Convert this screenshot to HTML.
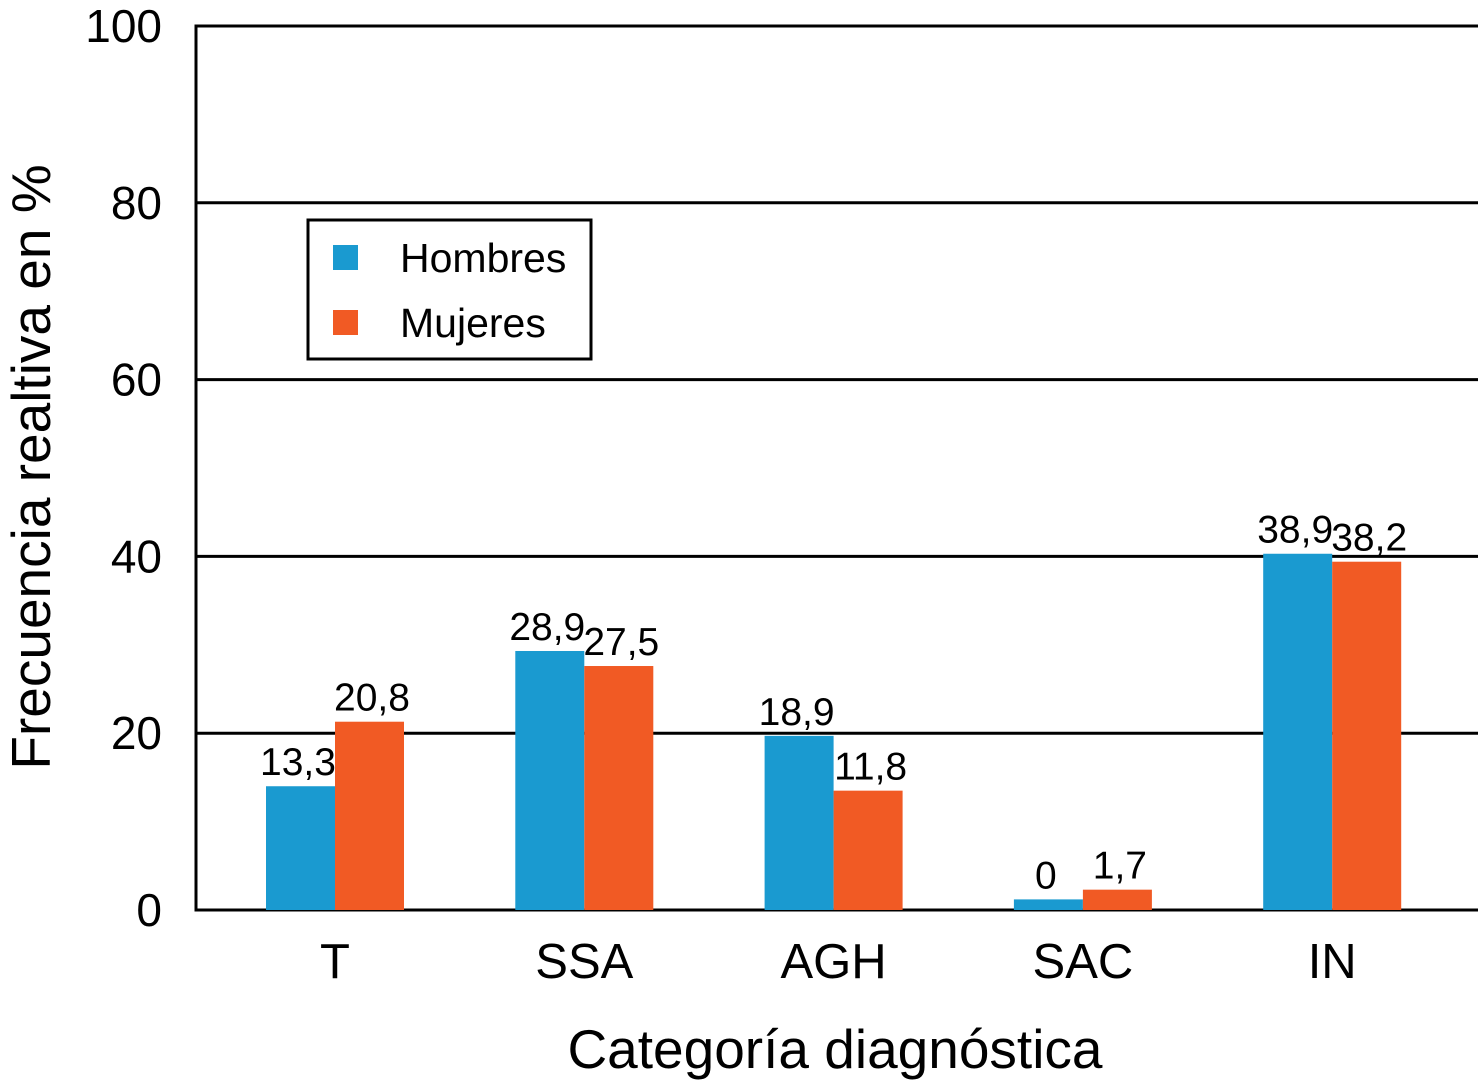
<!DOCTYPE html>
<html><head><meta charset="utf-8"><style>
html,body{margin:0;padding:0;background:#fff;}
svg{display:block;font-family:"Liberation Sans",Arial,sans-serif;}
</style></head><body>
<svg id="chart" width="1478" height="1080" viewBox="0 0 1478 1080">
<g id="grid"></g>
<g id="bars"></g>
<g id="labels"></g>
<g id="yticks"></g>
<g id="xticks"></g>
<text x="835" y="1068" font-size="55" text-anchor="middle">Categoría diagnóstica</text>
<text transform="translate(50,467) rotate(-90)" font-size="55" text-anchor="middle">Frecuencia realtiva en %</text>
<g>
<rect x="308" y="220" width="283" height="139" fill="#fff" stroke="#000" stroke-width="3"/>
<rect x="333" y="245" width="25" height="25" fill="#1a9ad0"/>
<text x="400" y="272" font-size="41">Hombres</text>
<rect x="333" y="310" width="25" height="25" fill="#f15a24"/>
<text x="400" y="337" font-size="41">Mujeres</text>
</g>
</svg>
<script>
const categories=["T","SSA","AGH","SAC","IN"];
const hombres=[14.0,29.3,19.7,1.2,40.3];
const mujeres=[21.3,27.6,13.5,2.3,39.4];
const hombresLabels=["13,3","28,9","18,9","0","38,9"];
const mujeresLabels=["20,8","27,5","11,8","1,7","38,2"];
const yTicks=[0,20,40,60,80,100];

const NS="http://www.w3.org/2000/svg";
const y0=910,y100=26,left=196,right=1478;
const yS=v=>y0-(y0-y100)*v/100;
const xC=i=>335+i*249.3;
const bw=69;
function mk(tag,attrs,parent){const e=document.createElementNS(NS,tag);for(const k in attrs)e.setAttribute(k,attrs[k]);document.getElementById(parent).appendChild(e);return e;}
yTicks.forEach(t=>{
  const l=mk("line",{x1:left,x2:right,y1:yS(t),y2:yS(t),stroke:"#000","stroke-width":3},"grid");
  
  
  const tx=mk("text",{x:162,y:yS(t)+16,"font-size":46,"text-anchor":"end"},"yticks");
  tx.textContent=t;
  
  
});
const ax=mk("line",{x1:left,x2:left,y1:y100-1.5,y2:y0+1.5,stroke:"#000","stroke-width":3},"grid");


categories.forEach((c,i)=>{
  const cx=xC(i);
  const b1=mk("rect",{x:cx-bw,y:yS(hombres[i]),width:bw,height:y0-yS(hombres[i]),fill:"#1a9ad0"},"bars");
  
  
  const b2=mk("rect",{x:cx,y:yS(mujeres[i]),width:bw,height:y0-yS(mujeres[i]),fill:"#f15a24"},"bars");
  
  
  const l1=mk("text",{x:cx-37,y:yS(hombres[i])-11,"font-size":39,"text-anchor":"middle"},"labels");
  l1.textContent=hombresLabels[i];
  
  
  const l2=mk("text",{x:cx+37,y:yS(mujeres[i])-11,"font-size":39,"text-anchor":"middle"},"labels");
  l2.textContent=mujeresLabels[i];
  
  
  const xt=mk("text",{x:cx,y:978,"font-size":49,"text-anchor":"middle"},"xticks");
  xt.textContent=c;
  
  
});
</script>
</body></html>
